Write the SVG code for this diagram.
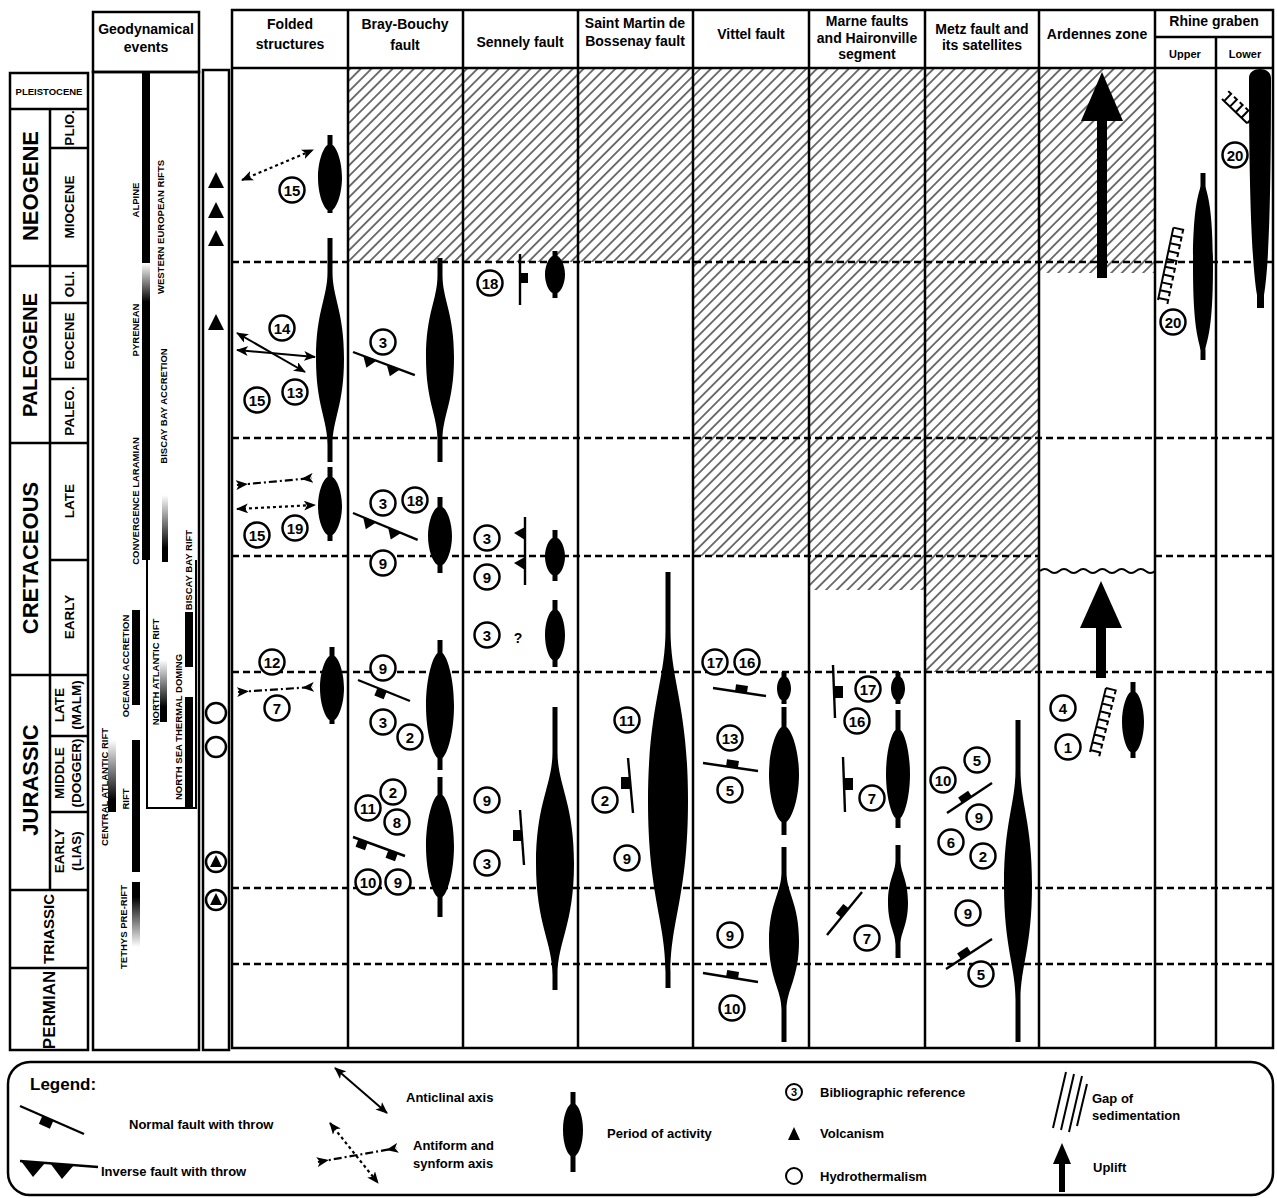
<svg xmlns="http://www.w3.org/2000/svg" width="1277" height="1198" viewBox="0 0 1277 1198">
<defs>
<style>
text{font-family:"Liberation Sans",Arial,Helvetica,sans-serif;font-weight:bold;fill:#000}
.ln{stroke:#000;stroke-width:2.5;fill:none}
.tl{stroke:#000;stroke-width:2;fill:none}
.dash{stroke:#000;stroke-width:2.6;stroke-dasharray:7 4;fill:none}
.k{fill:#000;stroke:none}
.r circle{fill:#fff;stroke:#000;stroke-width:2.5}
.r text{font-size:15px;text-anchor:middle}
.h{font-size:14px;text-anchor:middle}
.s{font-size:13.5px;text-anchor:middle}
.su{font-size:11px;text-anchor:middle}
.era{text-anchor:middle}
.g{font-size:9.5px;text-anchor:middle}
.lg{font-size:13px}
.fa{stroke:#000;stroke-width:2.4;fill:none}
.anti{stroke:#000;stroke-width:2;fill:none;marker-start:url(#ah);marker-end:url(#ah)}
.af{stroke:#000;stroke-width:2.2;fill:none;stroke-dasharray:3 3;marker-start:url(#ah);marker-end:url(#ah)}
.sf{stroke:#000;stroke-width:2.2;fill:none;stroke-dasharray:8 3 2 3;marker-start:url(#in);marker-end:url(#inE)}
.hat{fill:url(#hatch);stroke:none}
</style>
<marker id="ah" viewBox="0 0 12 10" refX="11" refY="5" markerWidth="12" markerHeight="10" markerUnits="userSpaceOnUse" orient="auto-start-reverse"><path d="M0,0 L12,5 L0,10 L3,5 Z"/></marker>
<marker id="in" viewBox="0 0 12 10" refX="1" refY="5" markerWidth="12" markerHeight="10" markerUnits="userSpaceOnUse" orient="auto"><path d="M0,0 L12,5 L0,10 L3,5 Z"/></marker>
<marker id="inE" viewBox="0 0 12 10" refX="11" refY="5" markerWidth="12" markerHeight="10" markerUnits="userSpaceOnUse" orient="auto"><path d="M12,0 L0,5 L12,10 L9,5 Z"/></marker>
<pattern id="hatch" width="7.5" height="7.5" patternUnits="userSpaceOnUse" patternTransform="rotate(45)"><line x1="3.75" y1="0" x2="3.75" y2="7.5" stroke="#000" stroke-width="1.1"/></pattern>
<linearGradient id="gd" x1="0" y1="0" x2="0" y2="1"><stop offset="0" stop-color="#fff"/><stop offset="1" stop-color="#000"/></linearGradient>
<linearGradient id="gu" x1="0" y1="0" x2="0" y2="1"><stop offset="0" stop-color="#000"/><stop offset="1" stop-color="#fff"/></linearGradient>
</defs>
<rect width="1277" height="1198" fill="#fff"/>

<!-- Stratigraphic column -->
<g id="strat">
<rect x="10" y="73" width="78" height="977" class="ln"/>
<path class="ln" d="M10,109 H88 M50,109 V890 M10,266 H88 M10,443 H88 M10,675 H88 M10,890 H88 M10,968 H88 M50,148 H88 M50,303 H88 M50,379 H88 M50,560 H88 M50,736 H88 M50,812 H88"/>
<text x="49" y="95" font-size="9.5" text-anchor="middle">PLEISTOCENE</text>
<text class="era" font-size="22" transform="translate(38,186) rotate(-90)">NEOGENE</text>
<text class="era" font-size="20" transform="translate(37,355) rotate(-90)">PALEOGENE</text>
<text class="era" font-size="22" transform="translate(38,558) rotate(-90)">CRETACEOUS</text>
<text class="era" font-size="22" transform="translate(38,780) rotate(-90)">JURASSIC</text>
<text class="era" font-size="15" transform="translate(54,929) rotate(-90)">TRIASSIC</text>
<text class="era" font-size="17" transform="translate(55,1010) rotate(-90)">PERMIAN</text>
<text class="s" transform="translate(74,128) rotate(-90)">PLIO.</text>
<text class="s" transform="translate(74,207) rotate(-90)">MIOCENE</text>
<text class="s" transform="translate(74,284) rotate(-90)">OLI.</text>
<text class="s" transform="translate(74,341) rotate(-90)">EOCENE</text>
<text class="s" transform="translate(74,411) rotate(-90)">PALEO.</text>
<text class="s" transform="translate(74,501) rotate(-90)">LATE</text>
<text class="s" transform="translate(74,617) rotate(-90)">EARLY</text>
<text class="s" transform="translate(64,705) rotate(-90)">LATE</text>
<text class="s" transform="translate(81,705) rotate(-90)">(MALM)</text>
<text class="s" transform="translate(64,773) rotate(-90)">MIDDLE</text>
<text class="s" transform="translate(81,773) rotate(-90)">(DOGGER)</text>
<text class="s" transform="translate(64,851) rotate(-90)">EARLY</text>
<text class="s" transform="translate(81,851) rotate(-90)">(LIAS)</text>
</g>

<!-- Geodynamical events -->
<g id="geodyn">
<rect x="93" y="12" width="106" height="60" class="ln"/>
<rect x="93" y="72" width="106" height="978" class="ln"/>
<text class="h" x="146" y="34">Geodynamical</text>
<text class="h" x="146" y="52">events</text>
<rect class="k" x="142" y="73" width="8" height="190"/>
<rect x="142" y="263" width="8" height="39" fill="url(#gd)"/>
<rect class="k" x="142" y="302" width="8" height="258"/>
<rect x="162" y="495" width="6" height="53" fill="url(#gd)"/>
<rect class="k" x="162" y="548" width="6" height="14"/>
<rect class="k" x="132" y="610" width="8" height="95"/>
<rect class="k" x="132" y="740" width="8" height="132"/>
<rect class="k" x="132" y="882" width="8" height="15"/>
<rect x="132" y="897" width="8" height="50" fill="url(#gu)"/>
<rect x="108" y="740" width="8" height="60" fill="url(#gd)"/>
<rect class="k" x="108" y="800" width="8" height="12"/>
<rect x="160" y="660" width="7" height="47" fill="url(#gd)"/>
<rect class="k" x="160" y="707" width="7" height="15"/>
<rect class="k" x="185" y="697" width="8" height="111"/>
<rect class="k" x="185" y="612" width="8" height="55"/>
<path class="tl" d="M147,560 V808 H196 V560"/>
<text class="g" transform="translate(138.5,200) rotate(-90)">ALPINE</text>
<text class="g" transform="translate(138.5,330) rotate(-90)">PYRENEAN</text>
<text class="g" transform="translate(138.5,501) rotate(-90)">CONVERGENCE  LARAMIAN</text>
<text class="g" transform="translate(163.5,227) rotate(-90)">WESTERN EUROPEAN RIFTS</text>
<text class="g" transform="translate(166.5,406) rotate(-90)">BISCAY BAY ACCRETION</text>
<text class="g" transform="translate(191.5,570) rotate(-90)">BISCAY BAY RIFT</text>
<text class="g" transform="translate(128.5,666) rotate(-90)">OCEANIC ACCRETION</text>
<text class="g" transform="translate(158.5,672) rotate(-90)">NORTH ATLANTIC RIFT</text>
<text class="g" transform="translate(181.5,727) rotate(-90)">NORTH SEA THERMAL DOMING</text>
<text class="g" transform="translate(107.5,787) rotate(-90)">CENTRAL ATLANTIC RIFT</text>
<text class="g" transform="translate(128.5,799) rotate(-90)">RIFT</text>
<text class="g" transform="translate(126.5,927) rotate(-90)">TETHYS PRE-RIFT</text>
</g>

<!-- Volcanism / hydrothermalism column -->
<g id="volcanic">
<rect x="203" y="70" width="26" height="980" class="ln"/>
<polygon class="k" points="208,188 224,188 216,172"/>
<polygon class="k" points="208,218 224,218 216,202"/>
<polygon class="k" points="208,246 224,246 216,230"/>
<polygon class="k" points="208,330 224,330 216,314"/>
<circle cx="216" cy="713" r="10" class="ln"/>
<circle cx="216" cy="747" r="10" class="ln"/>
<circle cx="216" cy="862" r="10" class="ln"/>
<polygon class="k" points="210,867 222,867 216,855"/>
<circle cx="216" cy="900" r="10" class="ln"/>
<polygon class="k" points="210,905 222,905 216,893"/>
</g>

<!-- Gaps of sedimentation -->
<g id="gaps">
<rect class="hat" x="348" y="68" width="345" height="194"/>
<rect class="hat" x="693" y="68" width="116" height="488"/>
<rect class="hat" x="809" y="68" width="116" height="522"/>
<rect class="hat" x="925" y="68" width="114" height="604"/>
<rect class="hat" x="1039" y="68" width="116" height="205"/>
</g>

<!-- Time lines -->
<g id="connectors">
<path class="dash" d="M232,262 H1273 M232,438 H1273 M232,556 H1039 M1155,556 H1273 M232,672 H1273 M232,888 H1273 M232,964 H1273"/>
<path class="tl" d="M1040,571 q4.8,-4 9.6,0 t9.6,0 t9.6,0 t9.6,0 t9.6,0 t9.6,0 t9.6,0 t9.6,0 t9.6,0 t9.6,0 t9.6,0 t9.6,0"/>
</g>

<!-- Table frame and headers -->
<g id="table">
<rect x="232" y="10" width="1041" height="1038" class="ln"/>
<path class="ln" d="M232,68 H1273 M348,10 V1048 M463,10 V1048 M578,10 V1048 M693,10 V1048 M809,10 V1048 M925,10 V1048 M1039,10 V1048 M1155,10 V1048 M1155,37 H1273 M1216,37 V1048"/>
<text class="h" x="290" y="29">Folded</text>
<text class="h" x="290" y="49">structures</text>
<text class="h" x="405" y="29">Bray-Bouchy</text>
<text class="h" x="405" y="50">fault</text>
<text class="h" x="520" y="47">Sennely fault</text>
<text class="h" x="635" y="28">Saint Martin de</text>
<text class="h" x="635" y="46">Bossenay fault</text>
<text class="h" x="751" y="39">Vittel fault</text>
<text class="h" x="867" y="26">Marne faults</text>
<text class="h" x="867" y="43">and Haironville</text>
<text class="h" x="867" y="59">segment</text>
<text class="h" x="982" y="34">Metz fault and</text>
<text class="h" x="982" y="50">its satellites</text>
<text class="h" x="1097" y="39">Ardennes zone</text>
<text class="h" x="1214" y="26">Rhine graben</text>
<text class="su" x="1185" y="58">Upper</text>
<text class="su" x="1245" y="58">Lower</text>
</g>

<!-- Folded structures -->
<g id="folded">
<path class="k" d="M327.5,135 H332.5 V145 C336.8,147.6 342,161.3 342,177.5 C342,193.8 336.8,207.4 332.5,210 V213 H327.5 V210 C323.2,207.4 318,193.8 318,177.5 C318,161.3 323.2,147.6 327.5,145 Z"/>
<path class="k" d="M327.5,238 H332.5 V272 C332.5,298 344,311 344,358.5 C344,406 332.5,419 332.5,445 V462 H327.5 V445 C327.5,419 316,406 316,358.5 C316,311 327.5,298 327.5,272 Z"/>
<path class="k" d="M327.5,467 H332.5 V477 C336.8,479.3 342,491.5 342,506 C342,520.5 336.8,532.7 332.5,535 V541 H327.5 V535 C323.2,532.7 318,520.5 318,506 C318,491.5 323.2,479.3 327.5,477 Z"/>
<path class="k" d="M329.5,647 H334.5 V656 C338.8,658.6 344,672 344,688 C344,704 338.8,717.4 334.5,720 V724 H329.5 V720 C325.2,717.4 320,704 320,688 C320,672 325.2,658.6 329.5,656 Z"/>
<line class="af" x1="242" y1="180" x2="313" y2="150"/>
<line class="anti" x1="237" y1="333" x2="305" y2="372"/>
<line class="anti" x1="237" y1="350" x2="315" y2="357"/>
<line class="sf" x1="237" y1="485" x2="312" y2="478"/>
<line class="af" x1="237" y1="509" x2="315" y2="505"/>
<line class="sf" x1="238" y1="692" x2="313" y2="687"/>
<g class="r"><circle cx="292" cy="190" r="12.5"/><text x="292" y="195.5">15</text></g>
<g class="r"><circle cx="282" cy="328" r="12.5"/><text x="282" y="333.5">14</text></g>
<g class="r"><circle cx="295" cy="392" r="12.5"/><text x="295" y="397.5">13</text></g>
<g class="r"><circle cx="257" cy="400" r="12.5"/><text x="257" y="405.5">15</text></g>
<g class="r"><circle cx="257" cy="535" r="12.5"/><text x="257" y="540.5">15</text></g>
<g class="r"><circle cx="295" cy="528" r="12.5"/><text x="295" y="533.5">19</text></g>
<g class="r"><circle cx="272" cy="662" r="12.5"/><text x="272" y="667.5">12</text></g>
<g class="r"><circle cx="277" cy="708" r="12.5"/><text x="277" y="713.5">7</text></g>
</g>

<!-- Bray-Bouchy fault -->
<g id="bray">
<path class="k" d="M437.5,258 H442.5 V275 C442.5,300 454,312.5 454,357.5 C454,402.5 442.5,415 442.5,440 V462 H437.5 V440 C437.5,415 426,402.5 426,357.5 C426,312.5 437.5,300 437.5,275 Z"/>
<path class="k" d="M437.5,497 H442.5 V507 C446.8,509.3 452,521.5 452,536 C452,550.5 446.8,562.7 442.5,565 V573 H437.5 V565 C433.2,562.7 428,550.5 428,536 C428,521.5 433.2,509.3 437.5,507 Z"/>
<path class="k" d="M437.5,640 H442.5 V653 C447.7,657.2 454,679.3 454,705.5 C454,731.8 447.7,753.8 442.5,758 V770 H437.5 V758 C432.3,753.8 426,731.8 426,705.5 C426,679.3 432.3,657.2 437.5,653 Z"/>
<path class="k" d="M437.5,777 H442.5 V795 C447.7,799.1 454,820.5 454,846 C454,871.5 447.7,892.9 442.5,897 V917 H437.5 V897 C432.3,892.9 426,871.5 426,846 C426,820.5 432.3,799.1 437.5,795 Z"/>
<g transform="translate(353,352) rotate(20.4)"><line class="fa" x1="0" y1="0" x2="66" y2="0"/><polygon class="k" points="11,0 25,0 18,10"/><polygon class="k" points="36,0 50,0 43,10"/></g>
<g transform="translate(353,513) rotate(22.5)"><line class="fa" x1="0" y1="0" x2="70" y2="0"/><polygon class="k" points="11,0 25,0 18,10"/><polygon class="k" points="38,0 52,0 45,10"/></g>
<line class="fa" x1="358" y1="680" x2="410" y2="701"/>
<rect class="k" x="-5" y="0" width="10" height="8" transform="translate(382,690) rotate(22)"/>
<line class="fa" x1="353" y1="837" x2="405" y2="856"/>
<rect class="k" x="-5" y="0" width="10" height="8" transform="translate(363,841) rotate(20)"/>
<rect class="k" x="-5" y="0" width="10" height="8" transform="translate(393,852) rotate(20)"/>
<g class="r"><circle cx="383" cy="342" r="12.5"/><text x="383" y="347.5">3</text></g>
<g class="r"><circle cx="383" cy="503" r="12.5"/><text x="383" y="508.5">3</text></g>
<g class="r"><circle cx="415" cy="500" r="12.5"/><text x="415" y="505.5">18</text></g>
<g class="r"><circle cx="383" cy="563" r="12.5"/><text x="383" y="568.5">9</text></g>
<g class="r"><circle cx="383" cy="668" r="12.5"/><text x="383" y="673.5">9</text></g>
<g class="r"><circle cx="383" cy="722" r="12.5"/><text x="383" y="727.5">3</text></g>
<g class="r"><circle cx="410" cy="737" r="12.5"/><text x="410" y="742.5">2</text></g>
<g class="r"><circle cx="393" cy="792" r="12.5"/><text x="393" y="797.5">2</text></g>
<g class="r"><circle cx="368" cy="808" r="12.5"/><text x="368" y="813.5">11</text></g>
<g class="r"><circle cx="397" cy="822" r="12.5"/><text x="397" y="827.5">8</text></g>
<g class="r"><circle cx="368" cy="882" r="12.5"/><text x="368" y="887.5">10</text></g>
<g class="r"><circle cx="398" cy="882" r="12.5"/><text x="398" y="887.5">9</text></g>
</g>

<!-- Sennely fault -->
<g id="sennely">
<path class="k" d="M552.5,251 H557.5 V256 C560.9,257.5 565,265.3 565,274.5 C565,283.8 560.9,291.5 557.5,293 V298 H552.5 V293 C549.1,291.5 545,283.8 545,274.5 C545,265.3 549.1,257.5 552.5,256 Z"/>
<path class="k" d="M552.5,530 H557.5 V538 C560.9,539.5 565,547.3 565,556.5 C565,565.8 560.9,573.5 557.5,575 V581 H552.5 V575 C549.1,573.5 545,565.8 545,556.5 C545,547.3 549.1,539.5 552.5,538 Z"/>
<path class="k" d="M552.5,600 H557.5 V610 C560.9,612 565,622.5 565,635 C565,647.5 560.9,658 557.5,660 V667 H552.5 V660 C549.1,658 545,647.5 545,635 C545,622.5 549.1,612 552.5,610 Z"/>
<path class="k" d="M552.5,707 H557.5 V752 C557.5,785 574,802.5 574,863.5 C574,924.5 557.5,942 557.5,975 V990 H552.5 V975 C552.5,942 536,924.5 536,863.5 C536,802.5 552.5,785 552.5,752 Z"/>
<line class="fa" x1="520" y1="254" x2="520" y2="305"/>
<rect class="k" x="520" y="273" width="8" height="10"/>
<line class="fa" x1="525" y1="517" x2="525" y2="585"/>
<polygon class="k" points="525,527 525,540 514,533"/>
<polygon class="k" points="525,557 525,570 514,563"/>
<line class="fa" x1="520" y1="810" x2="524" y2="865"/>
<rect class="k" x="513" y="830" width="9" height="11"/>
<text x="518" y="643" font-size="14" text-anchor="middle">?</text>
<g class="r"><circle cx="490" cy="283" r="12.5"/><text x="490" y="288.5">18</text></g>
<g class="r"><circle cx="487" cy="538" r="12.5"/><text x="487" y="543.5">3</text></g>
<g class="r"><circle cx="487" cy="577" r="12.5"/><text x="487" y="582.5">9</text></g>
<g class="r"><circle cx="487" cy="635" r="12.5"/><text x="487" y="640.5">3</text></g>
<g class="r"><circle cx="487" cy="800" r="12.5"/><text x="487" y="805.5">9</text></g>
<g class="r"><circle cx="487" cy="863" r="12.5"/><text x="487" y="868.5">3</text></g>
</g>

<!-- Saint Martin de Bossenay fault -->
<g id="stmartin">
<path class="k" d="M665.5,572 H670.5 V630 C670.5,681 688,707 688,801 C688,895 670.5,921 670.5,972 V988 H665.5 V972 C665.5,921 648,895 648,801 C648,707 665.5,681 665.5,630 Z"/>
<line class="fa" x1="628" y1="758" x2="633" y2="813"/>
<rect class="k" x="621" y="777" width="9" height="12"/>
<g class="r"><circle cx="627" cy="720" r="12.5"/><text x="627" y="725.5">11</text></g>
<g class="r"><circle cx="605" cy="800" r="12.5"/><text x="605" y="805.5">2</text></g>
<g class="r"><circle cx="627" cy="858" r="12.5"/><text x="627" y="863.5">9</text></g>
</g>

<!-- Vittel fault -->
<g id="vittel">
<path class="k" d="M781.5,672 H786.5 V677 C788.5,677.9 791,682.8 791,688.5 C791,694.3 788.5,699.1 786.5,700 V704 H781.5 V700 C779.5,699.1 777,694.3 777,688.5 C777,682.8 779.5,677.9 781.5,677 Z"/>
<path class="k" d="M781.5,707 H786.5 V727 C792.1,730.8 799,750.8 799,774.5 C799,798.3 792.1,818.2 786.5,822 V835 H781.5 V822 C775.9,818.2 769,798.3 769,774.5 C769,750.8 775.9,730.8 781.5,727 Z"/>
<path class="k" d="M781.5,847 H786.5 V872 C786.5,893 799,903 799,941 C799,979 786.5,989 786.5,1010 V1042 H781.5 V1010 C781.5,989 769,979 769,941 C769,903 781.5,893 781.5,872 Z"/>
<line class="fa" x1="713" y1="688" x2="766" y2="696"/>
<rect class="k" x="-6" y="-7" width="12" height="7" transform="translate(741,692) rotate(8.6)"/>
<line class="fa" x1="703" y1="763" x2="758" y2="771"/>
<rect class="k" x="-6" y="-7" width="12" height="7" transform="translate(732,767) rotate(8.3)"/>
<line class="fa" x1="703" y1="973" x2="758" y2="982"/>
<rect class="k" x="-6" y="-7" width="12" height="7" transform="translate(732,978) rotate(9.3)"/>
<g class="r"><circle cx="715" cy="662" r="12.5"/><text x="715" y="667.5">17</text></g>
<g class="r"><circle cx="747" cy="662" r="12.5"/><text x="747" y="667.5">16</text></g>
<g class="r"><circle cx="730" cy="738" r="12.5"/><text x="730" y="743.5">13</text></g>
<g class="r"><circle cx="730" cy="790" r="12.5"/><text x="730" y="795.5">5</text></g>
<g class="r"><circle cx="730" cy="935" r="12.5"/><text x="730" y="940.5">9</text></g>
<g class="r"><circle cx="732" cy="1008" r="12.5"/><text x="732" y="1013.5">10</text></g>
</g>

<!-- Marne faults and Haironville segment -->
<g id="marne">
<path class="k" d="M895.5,672 H900.5 V677 C902.5,677.9 905,682.8 905,688.5 C905,694.3 902.5,699.1 900.5,700 V704 H895.5 V700 C893.5,699.1 891,694.3 891,688.5 C891,682.8 893.5,677.9 895.5,677 Z"/>
<path class="k" d="M895.5,710 H900.5 V730 C904.8,733.5 910,752 910,774 C910,796 904.8,814.5 900.5,818 V828 H895.5 V818 C891.2,814.5 886,796 886,774 C886,752 891.2,733.5 895.5,730 Z"/>
<path class="k" d="M895.5,845 H900.5 V860 C900.5,873 908,879.5 908,902.5 C908,925.5 900.5,932 900.5,945 V958 H895.5 V945 C895.5,932 888,925.5 888,902.5 C888,879.5 895.5,873 895.5,860 Z"/>
<line class="fa" x1="833" y1="665" x2="835" y2="718"/>
<rect class="k" x="834" y="686" width="9" height="12"/>
<line class="fa" x1="843" y1="757" x2="845" y2="812"/>
<rect class="k" x="844" y="778" width="9" height="12"/>
<line class="fa" x1="827" y1="935" x2="862" y2="892"/>
<rect class="k" x="-6" y="-7" width="12" height="7" transform="translate(845,913) rotate(-51)"/>
<g class="r"><circle cx="868" cy="689" r="12.5"/><text x="868" y="694.5">17</text></g>
<g class="r"><circle cx="857" cy="721" r="12.5"/><text x="857" y="726.5">16</text></g>
<g class="r"><circle cx="872" cy="798" r="12.5"/><text x="872" y="803.5">7</text></g>
<g class="r"><circle cx="867" cy="938" r="12.5"/><text x="867" y="943.5">7</text></g>
</g>

<!-- Metz fault and its satellites -->
<g id="metz">
<path class="k" d="M1015.5,720 H1020.5 V770 C1020.5,804 1032,822 1032,885 C1032,948 1020.5,966 1020.5,1000 V1042 H1015.5 V1000 C1015.5,966 1004,948 1004,885 C1004,822 1015.5,804 1015.5,770 Z"/>
<line class="fa" x1="947" y1="813" x2="992" y2="783"/>
<rect class="k" x="-6" y="-7" width="12" height="7" transform="translate(967,800) rotate(-33.7)"/>
<line class="fa" x1="946" y1="969" x2="992" y2="939"/>
<rect class="k" x="-6" y="-7" width="12" height="7" transform="translate(966,956) rotate(-33)"/>
<g class="r"><circle cx="977" cy="760" r="12.5"/><text x="977" y="765.5">5</text></g>
<g class="r"><circle cx="943" cy="780" r="12.5"/><text x="943" y="785.5">10</text></g>
<g class="r"><circle cx="979" cy="817" r="12.5"/><text x="979" y="822.5">9</text></g>
<g class="r"><circle cx="951" cy="842" r="12.5"/><text x="951" y="847.5">6</text></g>
<g class="r"><circle cx="983" cy="856" r="12.5"/><text x="983" y="861.5">2</text></g>
<g class="r"><circle cx="968" cy="913" r="12.5"/><text x="968" y="918.5">9</text></g>
<g class="r"><circle cx="981" cy="974" r="12.5"/><text x="981" y="979.5">5</text></g>
</g>

<!-- Ardennes zone -->
<g id="ardennes">
<rect class="k" x="1097" y="118" width="10" height="160"/>
<polygon class="k" points="1081,121 1123,121 1102,72"/>
<rect class="k" x="1096" y="626" width="10" height="52"/>
<polygon class="k" points="1080,628 1122,628 1101,581"/>
<path class="k" d="M1130.5,682 H1135.5 V692 C1139.3,694.4 1144,707 1144,722 C1144,737 1139.3,749.6 1135.5,752 V758 H1130.5 V752 C1126.7,749.6 1122,737 1122,722 C1122,707 1126.7,694.4 1130.5,692 Z"/>
<g transform="translate(1090,752) rotate(14)"><path class="tl" d="M0,0 V-66 M0,-2 H10 V2 M0,-10 H10 V-6 M0,-18 H10 V-14 M0,-26 H10 V-22 M0,-34 H10 V-30 M0,-42 H10 V-38 M0,-50 H10 V-46 M0,-58 H10 V-54 M0,-66 H10 V-62"/></g>
<g class="r"><circle cx="1063" cy="708" r="12.5"/><text x="1063" y="713.5">4</text></g>
<g class="r"><circle cx="1068" cy="747" r="12.5"/><text x="1068" y="752.5">1</text></g>
</g>

<!-- Rhine graben -->
<g id="rhine">
<path class="k" d="M1200.5,173 H1205.5 V185 C1205.5,192 1213,198 1213,267 C1213,336 1205.5,343 1205.5,350 V360 H1200.5 V350 C1200.5,343 1193,336 1193,267 C1193,198 1200.5,192 1200.5,185 Z"/>
<path class="k" d="M1249,78 C1249,66 1271,66 1271,78 C1271,170 1270,260 1264,295 V308 H1257 V295 C1251,260 1249,170 1249,78 Z"/>
<g transform="translate(1158,300) rotate(12)"><path class="tl" d="M0,0 V-74 M0,-2 H10 V2 M0,-10 H10 V-6 M0,-18 H10 V-14 M0,-26 H10 V-22 M0,-34 H10 V-30 M0,-42 H10 V-38 M0,-50 H10 V-46 M0,-58 H10 V-54 M0,-66 H10 V-62 M0,-74 H10 V-70"/></g>
<g transform="translate(1222,99) rotate(134)"><path class="tl" d="M0,0 V-35 M0,-3 H-10 V1 M0,-11 H-10 V-7 M0,-19 H-10 V-15 M0,-27 H-10 V-23 M0,-35 H-10 V-31"/></g>
<g class="r"><circle cx="1173" cy="322" r="12.5"/><text x="1173" y="327.5">20</text></g>
<g class="r"><circle cx="1235" cy="155" r="12.5"/><text x="1235" y="160.5">20</text></g>
</g>

<!-- Legend -->
<g id="legend">
<rect x="8" y="1062" width="1265" height="133" rx="22" class="ln"/>
<text x="30" y="1090" font-size="17">Legend:</text>
<line class="fa" x1="20" y1="1106" x2="84" y2="1134"/>
<rect class="k" x="-6" y="0" width="12" height="9" transform="translate(48,1118) rotate(23.6)"/>
<text class="lg" x="129" y="1129">Normal fault with throw</text>
<line class="fa" x1="20" y1="1161" x2="98" y2="1167"/>
<polygon class="k" points="21,1161 45,1163 33,1177"/>
<polygon class="k" points="50,1163 74,1165 62,1179"/>
<text class="lg" x="101" y="1176">Inverse fault with throw</text>
<line class="anti" x1="335" y1="1068" x2="387" y2="1113"/>
<text class="lg" x="406" y="1102">Anticlinal axis</text>
<line class="af" x1="330" y1="1123" x2="378" y2="1183"/>
<line class="sf" x1="318" y1="1162" x2="397" y2="1148"/>
<text class="lg" x="413" y="1150">Antiform and</text>
<text class="lg" x="413" y="1168">synform axis</text>
<path class="k" d="M570.5,1092 H575.5 V1104 C579,1107 583,1116 583,1130 C583,1144 579,1153 575.5,1156 V1172 H570.5 V1156 C567,1153 563,1144 563,1130 C563,1116 567,1107 570.5,1104 Z"/>
<text class="lg" x="607" y="1138">Period of activity</text>
<circle cx="794" cy="1092" r="8" fill="#fff" stroke="#000" stroke-width="2"/>
<text x="794" y="1096" font-size="11" text-anchor="middle">3</text>
<text class="lg" x="820" y="1097">Bibliographic reference</text>
<polygon class="k" points="788,1140 800,1140 794,1127"/>
<text class="lg" x="820" y="1138">Volcanism</text>
<circle cx="794" cy="1176" r="8" fill="#fff" stroke="#000" stroke-width="2"/>
<text class="lg" x="820" y="1181">Hydrothermalism</text>
<path class="tl" stroke-width="1.3" d="M1053,1128 L1066,1072 M1061,1130 L1074,1074 M1069,1132 L1082,1076 M1077,1126 L1087,1084"/>
<text class="lg" x="1092" y="1103">Gap of</text>
<text class="lg" x="1092" y="1120">sedimentation</text>
<rect class="k" x="1059" y="1162" width="6" height="30"/>
<polygon class="k" points="1053,1164 1071,1164 1062,1143"/>
<text class="lg" x="1093" y="1172">Uplift</text>
</g>
</svg>
